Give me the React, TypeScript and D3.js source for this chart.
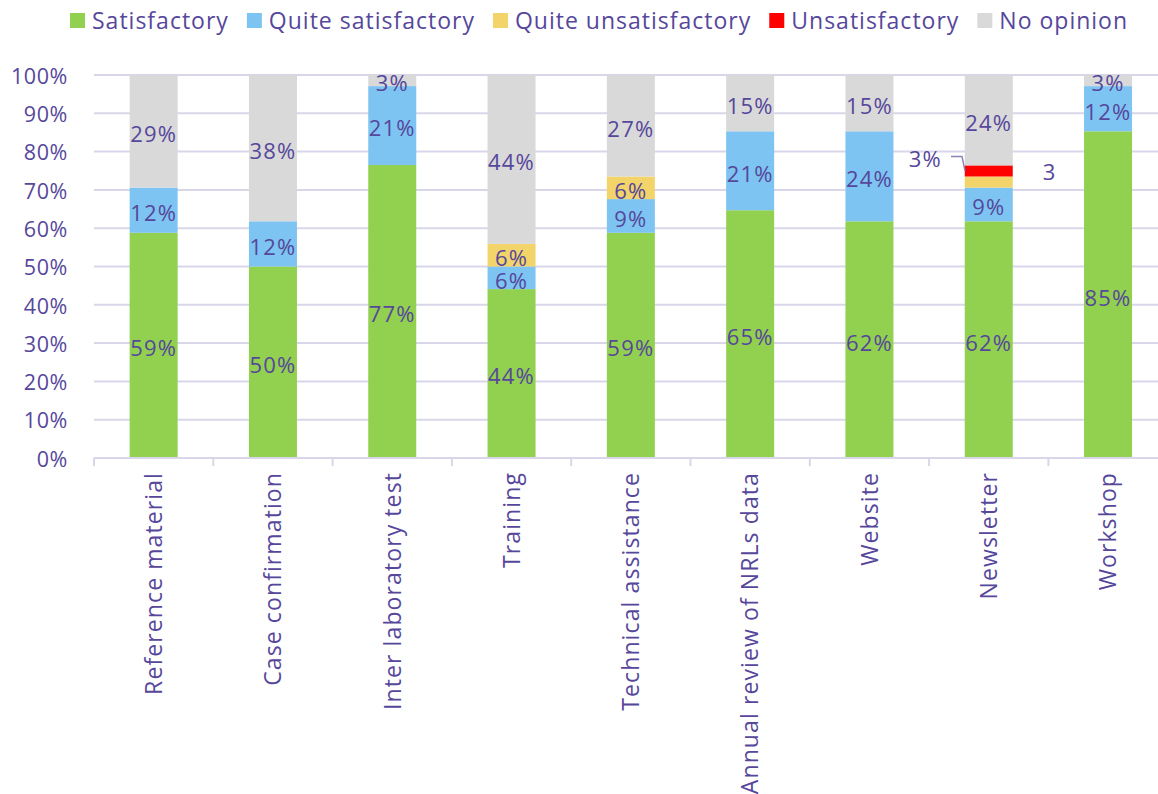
import React, { useEffect, useRef } from "react";
import * as d3 from "d3";

const categories = [
  "Reference material",
  "Case confirmation",
  "Inter laboratory test",
  "Training",
  "Technical assistance",
  "Annual review of NRLs data",
  "Website",
  "Newsletter",
  "Workshop",
];
const seriesNames = ["Satisfactory", "Quite satisfactory", "Quite unsatisfactory", "Unsatisfactory", "No opinion"];
const satisfactory = [58.8, 50.0, 76.5, 44.1, 58.8, 64.7, 61.8, 61.8, 85.3];
const quiteSatisfactory = [11.8, 11.8, 20.6, 5.9, 8.8, 20.6, 23.5, 8.8, 11.8];
const quiteUnsatisfactory = [0, 0, 0, 5.9, 5.9, 0, 0, 2.9, 0];
const unsatisfactory = [0, 0, 0, 0, 0, 0, 0, 2.9, 0];
const noOpinion = [29.4, 38.2, 2.9, 44.1, 26.5, 14.7, 14.7, 23.5, 2.9];
const yTicks = [0, 10, 20, 30, 40, 50, 60, 70, 80, 90, 100];
const colors = ["#92D050", "#7DC4F2", "#F2D46B", "#FF0000", "#D9D9D9"];

const TEXT = "#56479B";
const GRID = "#DAD6EA";
const FONT = "'Open Sans', sans-serif";

export default function App() {
  const ref = useRef<SVGSVGElement>(null);
  useEffect(() => {
    const svg = d3.select(ref.current);
    svg.selectAll("*").remove();
    const W = 1158;
    const left = 94, top = 75, bottom = 458;
    const band = 119.3;
    const x = d3.scaleBand<string>().domain(categories).range([left, left + band * categories.length]).paddingInner(0).paddingOuter(0);
    const y = d3.scaleLinear().domain([0, 100]).range([bottom, top]);
    const barW = 48;

    const label = (sel: any, size: number, ls: number) =>
      sel.attr("font-family", FONT).attr("font-size", size).attr("letter-spacing", ls).attr("fill", TEXT);

    // grid
    svg.append("g").selectAll("line").data(yTicks.filter((t) => t > 0)).join("line")
      .attr("x1", left).attr("x2", W).attr("y1", (d) => y(d)).attr("y2", (d) => y(d))
      .attr("stroke", GRID).attr("stroke-width", 2);

    // y labels
    label(svg.append("g").selectAll("text").data(yTicks).join("text")
      .attr("x", 68).attr("y", (d) => y(d) + 1).attr("dy", "0.36em").attr("text-anchor", "end"), 21.5, 0.6)
      .text((d: number) => `${d}%`);

    // stacked data
    const rows = categories.map((c, i) => ({
      cat: c,
      s0: satisfactory[i], s1: quiteSatisfactory[i], s2: quiteUnsatisfactory[i], s3: unsatisfactory[i], s4: noOpinion[i],
    }));
    const keys = ["s0", "s1", "s2", "s3", "s4"];
    const stack = d3.stack<any>().keys(keys)(rows);

    const g = svg.append("g");
    stack.forEach((layer, li) => {
      g.append("g").selectAll("rect").data(layer).join("rect")
        .attr("x", (d: any) => (x(d.data.cat) as number) + x.bandwidth() / 2 - barW / 2)
        .attr("width", barW)
        .attr("y", (d) => y(Math.min(d[1], 100)))
        .attr("height", (d) => Math.max(0, y(d[0]) - y(Math.min(d[1], 100))))
        .attr("fill", colors[li]);
    });

    // data labels
    const DS = 22, DL = 1.2;
    stack.forEach((layer, li) => {
      layer.forEach((d: any) => {
        const v = d[1] - d[0];
        if (v <= 0) return;
        const cx = (x(d.data.cat) as number) + x.bandwidth() / 2;
        const cy = (y(d[0]) + y(Math.min(d[1], 100))) / 2;
        if (d.data.cat === "Newsletter" && (li === 2 || li === 3)) {
          if (li === 3) {
            label(svg.append("text").attr("x", 942).attr("y", y(d[1]) - 6).attr("dy", "0.36em")
              .attr("text-anchor", "end"), DS, DL).text(`${Math.round(v)}%`);
            const lyTop = y(d[1]) - 9;
            svg.append("path").attr("d", `M951,${lyTop} L962,${lyTop} L965,${(y(d[0]) + y(d[1])) / 2}`)
              .attr("fill", "none").attr("stroke", "#8C84B8").attr("stroke-width", 1.5);
          } else {
            label(svg.append("text").attr("x", cx + 61).attr("y", y(d[1]) - 4).attr("dy", "0.36em")
              .attr("text-anchor", "middle"), DS, DL).text(`${Math.round(v)}`);
          }
          return;
        }
        label(svg.append("text").attr("x", cx).attr("y", cy + 3).attr("dy", "0.36em")
          .attr("text-anchor", "middle"), DS, DL).text(`${Math.round(v)}%`);
      });
    });

    // x axis
    svg.append("line").attr("x1", left).attr("x2", W).attr("y1", bottom).attr("y2", bottom)
      .attr("stroke", GRID).attr("stroke-width", 2);
    svg.append("g").selectAll("line").data(d3.range(categories.length + 1)).join("line")
      .attr("x1", (i) => left + i * band).attr("x2", (i) => left + i * band)
      .attr("y1", bottom).attr("y2", bottom + 8).attr("stroke", GRID).attr("stroke-width", 2);
    label(svg.append("g").selectAll("text").data(categories).join("text")
      .attr("transform", (c) => `translate(${(x(c) as number) + x.bandwidth() / 2},472) rotate(-90)`)
      .attr("dy", "0.36em").attr("text-anchor", "end"), 23, 1.1)
      .text((c: string) => c);

    // legend
    const lg = svg.append("g");
    let lx = 70;
    seriesNames.forEach((n, i) => {
      lg.append("rect").attr("x", lx).attr("y", 13).attr("width", 15).attr("height", 15).attr("fill", colors[i]);
      const t = label(lg.append("text").attr("x", lx + 22).attr("y", 21).attr("dy", "0.36em"), 23, 1).text(n);
      const w = (t.node() as SVGTextElement).getComputedTextLength();
      lx += 22 + w + 18;
    });
  }, []);
  return <svg ref={ref} width={1158} height={794} style={{ position: "absolute", left: 0, top: 0 }} />;
}
